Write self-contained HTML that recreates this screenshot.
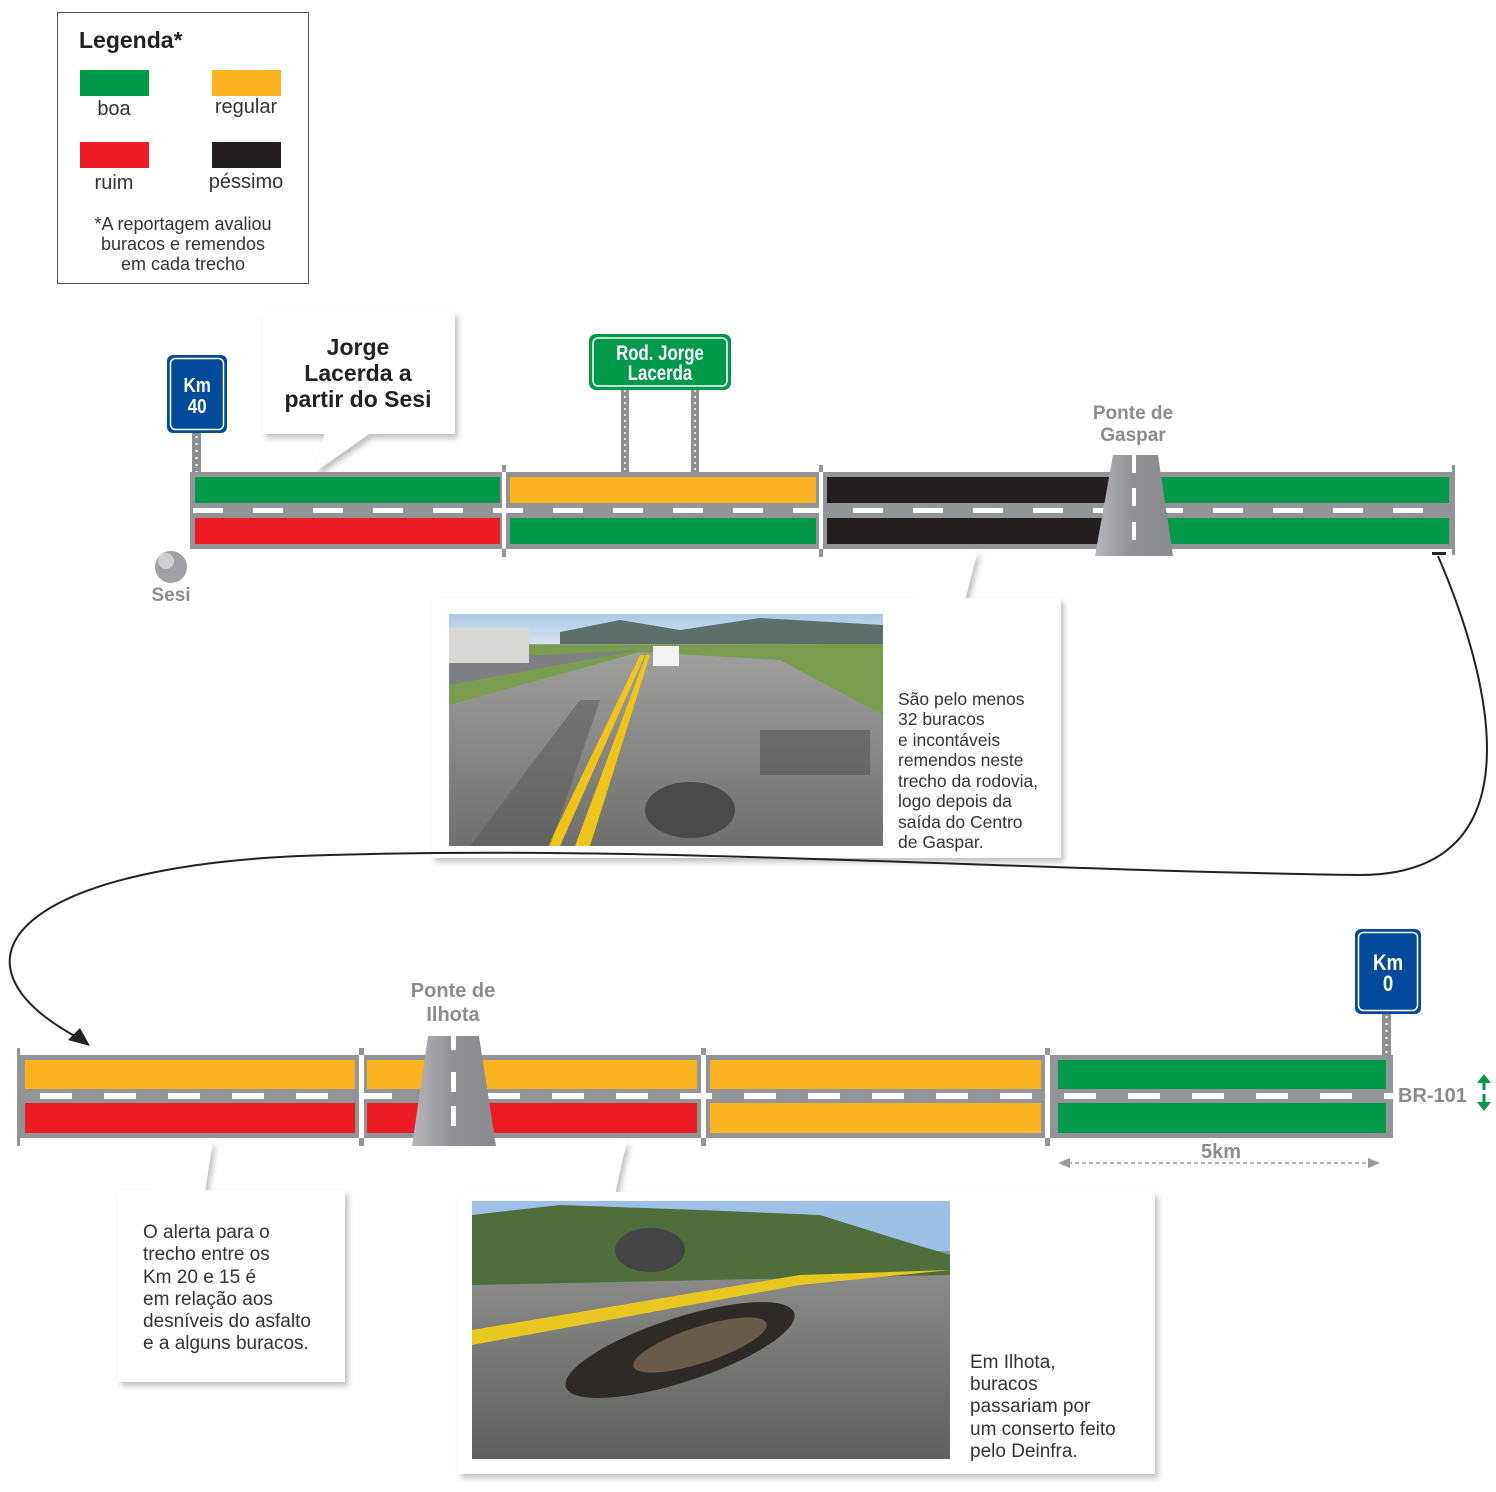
<!DOCTYPE html>
<html><head><meta charset="utf-8"><style>
html,body{margin:0;padding:0;background:#fff;}
svg{display:block;font-family:"Liberation Sans",Arial,sans-serif;}
</style></head><body>
<svg width="1496" height="1492" viewBox="0 0 1496 1492" xmlns="http://www.w3.org/2000/svg">
<defs>
<filter id="sh" x="-10%" y="-10%" width="130%" height="130%"><feDropShadow dx="3" dy="4" stdDeviation="3" flood-color="#000" flood-opacity="0.25"/></filter>
<linearGradient id="br" x1="0" x2="1"><stop offset="0" stop-color="#b5b6b9"/><stop offset="0.5" stop-color="#8f9094"/><stop offset="1" stop-color="#8a8b8f"/></linearGradient>
<linearGradient id="sky1" x1="0" y1="0" x2="0" y2="1"><stop offset="0" stop-color="#a9c8e8"/><stop offset="1" stop-color="#d8e4ee"/></linearGradient>
<linearGradient id="rd1" x1="0" y1="0" x2="0" y2="1"><stop offset="0" stop-color="#a8a8a6"/><stop offset="1" stop-color="#6f6f6d"/></linearGradient>
<linearGradient id="rd2" x1="0" y1="0" x2="0" y2="1"><stop offset="0" stop-color="#9c9c9a"/><stop offset="1" stop-color="#5f5f5e"/></linearGradient>
</defs>

<!-- Legend -->
<rect x="57.5" y="12.5" width="251" height="271" fill="#fff" stroke="#555" stroke-width="1"/>
<text x="79" y="48" font-size="23" font-weight="bold" fill="#222">Legenda*</text>
<rect x="80" y="70" width="69" height="26" fill="#009a4a"/>
<rect x="212" y="70" width="69" height="26" fill="#fbb41f"/>
<rect x="80" y="142" width="69" height="26" fill="#ed1c24"/>
<rect x="212" y="142" width="69" height="26" fill="#231f20"/>
<g font-size="20" fill="#333" text-anchor="middle">
<text x="114" y="115">boa</text><text x="246" y="113">regular</text>
<text x="114" y="189">ruim</text><text x="246" y="188">péssimo</text>
</g>
<g font-size="18" fill="#333" text-anchor="middle">
<text x="183" y="230">*A reportagem avaliou</text>
<text x="183" y="250">buracos e remendos</text>
<text x="183" y="270">em cada trecho</text>
</g>

<!-- Callout 1 (Jorge Lacerda) -->
<g filter="url(#sh)">
<rect x="263" y="312" width="192" height="122" fill="#fff"/>
<polygon points="325,432 372,432 315,472" fill="#fff"/>
</g>
<g font-size="23" font-weight="bold" fill="#222" text-anchor="middle">
<text x="358" y="355">Jorge</text><text x="358" y="381">Lacerda a</text><text x="358" y="407">partir do Sesi</text>
</g>

<!-- Km 40 sign -->
<rect x="192" y="430" width="9" height="44" fill="#8e8f93"/>
<line x1="196.5" y1="436" x2="196.5" y2="472" stroke="#fff" stroke-width="2" stroke-dasharray="2,5"/>
<rect x="167" y="355" width="60" height="78" rx="6" fill="#034b9a"/>
<rect x="170.5" y="358.5" width="53" height="71" rx="5" fill="none" stroke="#fff" stroke-width="1.5"/>
<g font-size="20" font-weight="bold" fill="#fff" text-anchor="middle" transform="scale(0.85,1)">
<text x="232" y="392">Km</text><text x="232" y="413">40</text>
</g>

<!-- Rod Jorge Lacerda sign -->
<rect x="621" y="385" width="8" height="88" fill="#8e8f93"/>
<rect x="691" y="385" width="8" height="88" fill="#8e8f93"/>
<line x1="625" y1="390" x2="625" y2="472" stroke="#fff" stroke-width="1.5" stroke-dasharray="2,4"/>
<line x1="695" y1="390" x2="695" y2="472" stroke="#fff" stroke-width="1.5" stroke-dasharray="2,4"/>
<rect x="589" y="334" width="142" height="56" rx="7" fill="#009a4a"/>
<rect x="593" y="338" width="134" height="48" rx="5" fill="none" stroke="#fff" stroke-width="1.5"/>
<g font-size="21" font-weight="bold" fill="#fff" text-anchor="middle" transform="scale(0.8,1)">
<text x="825" y="360">Rod. Jorge</text><text x="825" y="380">Lacerda</text>
</g>

<!-- Road 1 -->
<rect x="190" y="472" width="1264" height="77" fill="#939498"/>
<rect x="195" y="477" width="305" height="26" fill="#009a4a"/>
<rect x="195" y="518" width="305" height="26" fill="#ed1c24"/>
<rect x="510" y="477" width="306" height="26" fill="#fbb41f"/>
<rect x="510" y="518" width="306" height="26" fill="#009a4a"/>
<rect x="827" y="477" width="622" height="26" fill="#231f20"/>
<rect x="827" y="518" width="622" height="26" fill="#231f20"/>
<rect x="1140" y="477" width="309" height="26" fill="#009a4a"/>
<rect x="1140" y="518" width="309" height="26" fill="#009a4a"/>
<line x1="193" y1="510.5" x2="1452" y2="510.5" stroke="#fff" stroke-width="5" stroke-dasharray="30,30"/>
<rect x="502" y="472" width="4" height="77" fill="#fff"/>
<rect x="502" y="465" width="4" height="7" fill="#939498"/><rect x="502" y="549" width="4" height="8" fill="#939498"/>
<rect x="819" y="472" width="4" height="77" fill="#fff"/>
<rect x="819" y="465" width="4" height="7" fill="#939498"/><rect x="819" y="549" width="4" height="8" fill="#939498"/>
<rect x="1452" y="465" width="3" height="90" fill="#939498"/>
<!-- bridge Gaspar -->
<polygon points="1113,455 1158,455 1173,556 1095,556" fill="url(#br)"/>
<rect x="1132" y="455" width="4" height="18" fill="#fff"/>
<rect x="1132" y="488" width="4" height="18" fill="#fff"/>
<rect x="1132" y="522" width="4" height="18" fill="#fff"/>
<text x="1133" y="419" font-size="19" font-weight="bold" fill="#8b8c90" text-anchor="middle">Ponte de</text>
<text x="1133" y="441" font-size="19" font-weight="bold" fill="#8b8c90" text-anchor="middle">Gaspar</text>

<!-- Sesi -->
<circle cx="171" cy="567" r="16" fill="#a0a1a4"/>
<circle cx="166" cy="561" r="8" fill="#cfd0d2"/>
<text x="171" y="601" font-size="19" font-weight="bold" fill="#8b8c90" text-anchor="middle">Sesi</text>

<!-- Callout photo 1 -->
<g filter="url(#sh)">
<rect x="432" y="598" width="629" height="260" fill="#fff"/>
<polygon points="915,600 965,600 978,550" fill="#fff"/>
</g>
<rect x="449" y="614" width="434" height="232" fill="url(#rd1)"/>
<rect x="449" y="614" width="434" height="30" fill="url(#sky1)"/>
<polygon points="560,632 620,620 680,630 760,618 883,625 883,644 560,644" fill="#5d6f6a"/>
<polygon points="449,645 883,644 883,715 780,660 640,652 449,705" fill="#7a9c4e"/>
<polygon points="449,660 640,650 449,685" fill="#7d7f82"/>
<rect x="449" y="628" width="80" height="35" fill="#d8d8d6"/>
<rect x="653" y="646" width="26" height="20" fill="#f2f2f2"/>
<polygon points="548,846 560,846 645,655 640,655" fill="#f0c419"/>
<polygon points="575,846 590,846 650,655 646,655" fill="#f0c419"/>
<polygon points="470,846 550,846 600,700 580,700" fill="#555" opacity="0.5"/>
<ellipse cx="690" cy="810" rx="45" ry="28" fill="#4a4a4a"/>
<rect x="760" y="730" width="110" height="45" fill="#555" opacity="0.6"/>
<g font-size="17.5" fill="#333">
<text x="898" y="705">São pelo menos</text><text x="898" y="725">32 buracos</text>
<text x="898" y="746">e incontáveis</text><text x="898" y="766">remendos neste</text>
<text x="898" y="787">trecho da rodovia,</text><text x="898" y="807">logo depois da</text>
<text x="898" y="828">saída do Centro</text><text x="898" y="848">de Gaspar.</text>
</g>

<!-- Connector curve (drawn over callout) -->
<path d="M1438,556 C1500,700 1530,875 1360,875 C1000,870 650,845 330,855 C20,862 -70,960 82,1040" fill="none" stroke="#222" stroke-width="2"/>
<polygon points="90,1046 68,1040 80,1028" fill="#222"/>
<rect x="1432" y="552" width="14" height="3" fill="#222"/>

<!-- Km 0 sign -->
<rect x="1382" y="1010" width="9" height="48" fill="#8e8f93"/>
<line x1="1386.5" y1="1016" x2="1386.5" y2="1056" stroke="#fff" stroke-width="2" stroke-dasharray="2,5"/>
<rect x="1355" y="929" width="66" height="85" rx="6" fill="#034b9a"/>
<rect x="1358.5" y="932.5" width="59" height="78" rx="5" fill="none" stroke="#fff" stroke-width="1.5"/>
<g font-size="22" font-weight="bold" fill="#fff" text-anchor="middle" transform="scale(0.85,1)">
<text x="1633" y="970">Km</text><text x="1633" y="991">0</text>
</g>

<!-- Road 2 -->
<rect x="18" y="1055" width="1375" height="83" fill="#939498"/>
<rect x="25" y="1060" width="330" height="29" fill="#fbb41f"/>
<rect x="25" y="1103" width="330" height="30" fill="#ed1c24"/>
<rect x="367" y="1060" width="330" height="29" fill="#fbb41f"/>
<rect x="367" y="1103" width="330" height="30" fill="#ed1c24"/>
<rect x="710" y="1060" width="331" height="29" fill="#fbb41f"/>
<rect x="710" y="1103" width="331" height="30" fill="#fbb41f"/>
<rect x="1058" y="1060" width="328" height="29" fill="#009a4a"/>
<rect x="1058" y="1103" width="328" height="30" fill="#009a4a"/>
<line x1="20" y1="1096" x2="1393" y2="1096" stroke="#fff" stroke-width="6" stroke-dasharray="32,32" stroke-dashoffset="-20"/>
<rect x="359" y="1055" width="5" height="83" fill="#fff"/>
<rect x="359" y="1048" width="5" height="7" fill="#939498"/><rect x="359" y="1138" width="5" height="8" fill="#939498"/>
<rect x="701" y="1055" width="5" height="83" fill="#fff"/>
<rect x="701" y="1048" width="5" height="7" fill="#939498"/><rect x="701" y="1138" width="5" height="8" fill="#939498"/>
<rect x="1045" y="1055" width="5" height="83" fill="#fff"/>
<rect x="1045" y="1048" width="5" height="7" fill="#939498"/><rect x="1045" y="1138" width="5" height="8" fill="#939498"/>
<rect x="17" y="1048" width="3" height="98" fill="#939498"/>
<!-- bridge Ilhota -->
<polygon points="428,1036 479,1036 496,1146 412,1146" fill="url(#br)"/>
<rect x="451" y="1036" width="5" height="14" fill="#fff"/>
<rect x="451" y="1072" width="5" height="20" fill="#fff"/>
<rect x="451" y="1106" width="5" height="20" fill="#fff"/>
<text x="453" y="997" font-size="20" font-weight="bold" fill="#8b8c90" text-anchor="middle">Ponte de</text>
<text x="453" y="1021" font-size="20" font-weight="bold" fill="#8b8c90" text-anchor="middle">Ilhota</text>

<!-- BR-101 -->
<text x="1398" y="1102" font-size="20" font-weight="bold" fill="#8b8c90">BR-101</text>
<polygon points="1484,1074 1491,1083 1477,1083" fill="#009a4a"/>
<rect x="1482.5" y="1082" width="3" height="8" fill="#009a4a"/>
<polygon points="1484,1111 1491,1102 1477,1102" fill="#009a4a"/>
<rect x="1482.5" y="1094" width="3" height="8" fill="#009a4a"/>

<!-- 5km -->
<text x="1221" y="1158" font-size="20" font-weight="bold" fill="#8b8c90" text-anchor="middle">5km</text>
<line x1="1068" y1="1163" x2="1370" y2="1163" stroke="#999" stroke-width="1.5" stroke-dasharray="4,3"/>
<polygon points="1058,1163 1070,1158 1070,1168" fill="#999"/>
<polygon points="1380,1163 1368,1158 1368,1168" fill="#999"/>

<!-- Callout 2 -->
<g filter="url(#sh)">
<rect x="118" y="1190" width="227" height="192" fill="#fff"/>
<polygon points="150,1192 205,1192 213,1140" fill="#fff"/>
</g>
<g font-size="19" fill="#333">
<text x="143" y="1238">O alerta para o</text><text x="143" y="1260">trecho entre os</text>
<text x="143" y="1283">Km 20 e 15 é</text><text x="143" y="1305">em relação aos</text>
<text x="143" y="1327">desníveis do asfalto</text><text x="143" y="1349">e a alguns buracos.</text>
</g>

<!-- Callout photo 3 -->
<g filter="url(#sh)">
<rect x="458" y="1192" width="697" height="282" fill="#fff"/>
<polygon points="535,1194 615,1194 627,1140" fill="#fff"/>
</g>
<rect x="472" y="1201" width="478" height="258" fill="url(#rd2)"/>
<rect x="472" y="1201" width="478" height="50" fill="#9dc1e6"/>
<polygon points="472,1215 560,1205 700,1210 820,1215 900,1240 950,1255 950,1275 472,1285" fill="#4f6e3c"/>
<polygon points="472,1330 800,1275 950,1270 800,1285 472,1345" fill="#e8c721"/>
<ellipse cx="680" cy="1350" rx="120" ry="32" fill="#2e2a27" transform="rotate(-18 680 1350)"/>
<ellipse cx="700" cy="1345" rx="70" ry="18" fill="#6a5a4a" transform="rotate(-18 700 1345)"/>
<ellipse cx="650" cy="1250" rx="35" ry="22" fill="#444"/>
<g font-size="19" fill="#333">
<text x="970" y="1368">Em Ilhota,</text><text x="970" y="1390">buracos</text>
<text x="970" y="1412">passariam por</text><text x="970" y="1435">um conserto feito</text>
<text x="970" y="1457">pelo Deinfra.</text>
</g>
</svg>
</body></html>
